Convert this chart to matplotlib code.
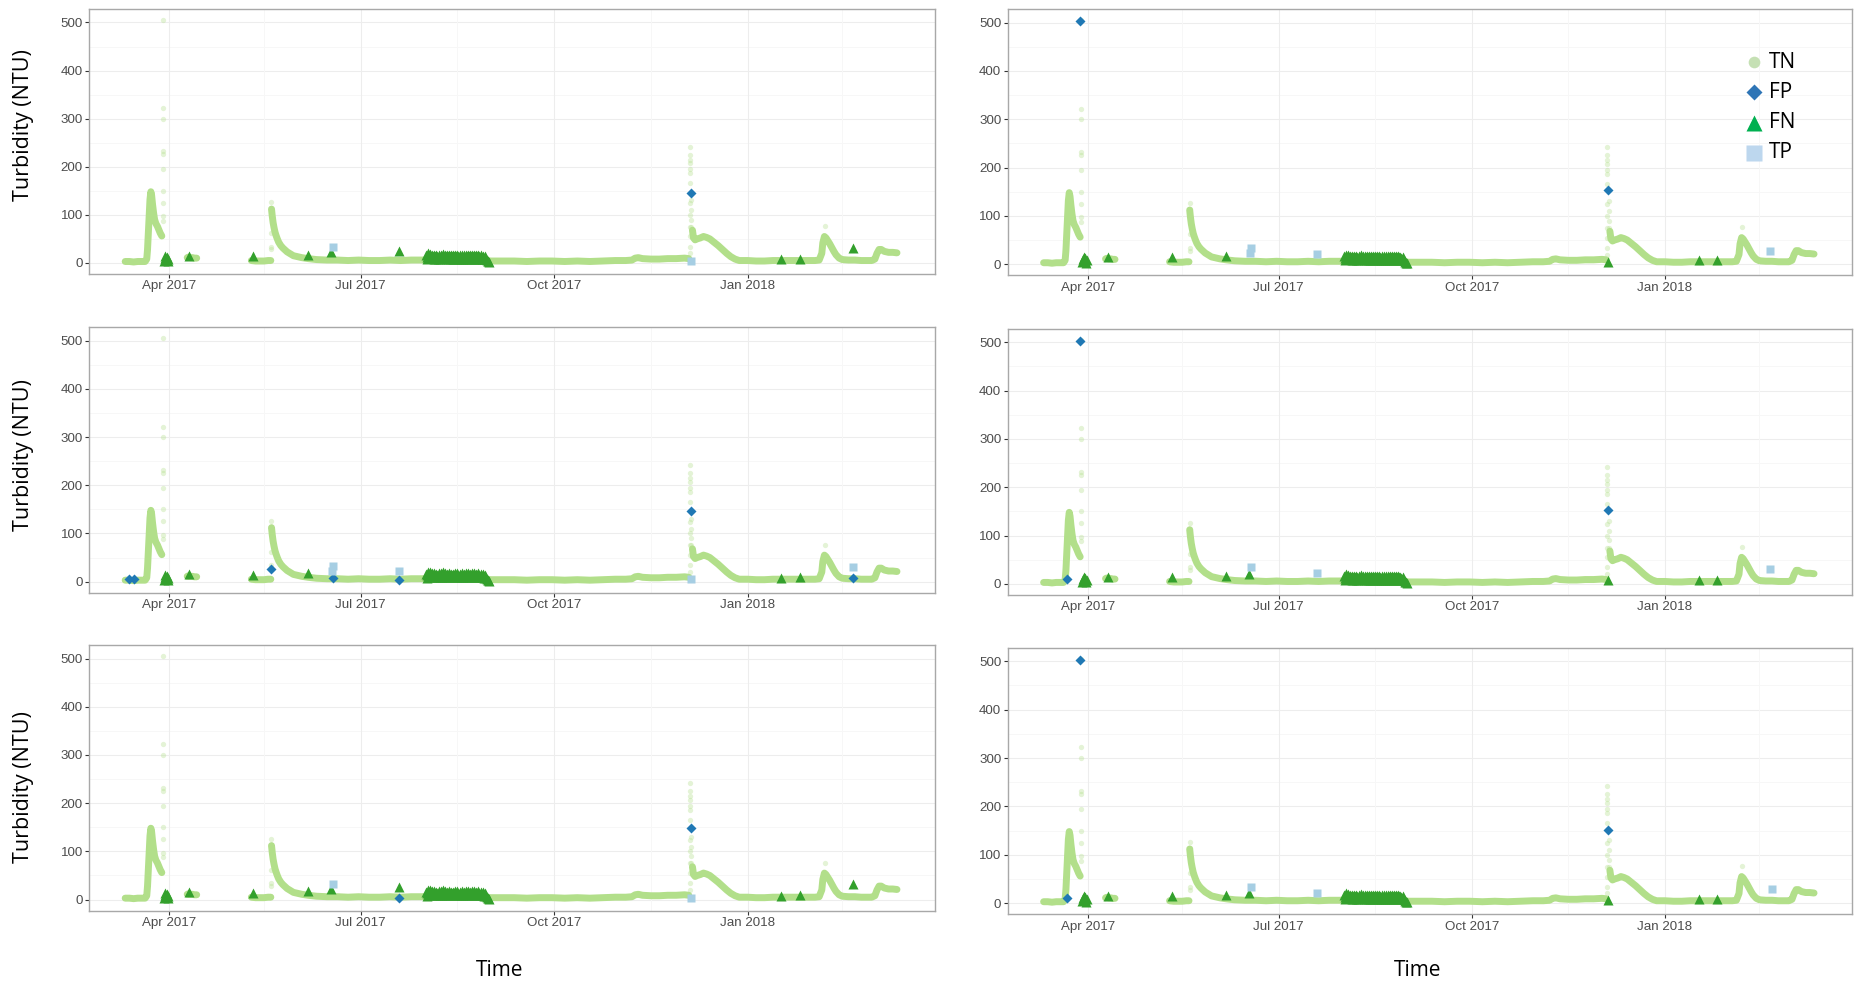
import numpy as np
import pandas as pd
import matplotlib
matplotlib.use("Agg")
import matplotlib.pyplot as plt

NaN = np.nan

# ---------------- data ----------------
# TN (true negatives): the turbidity record shared by every panel; NaN marks a data gap
tn_time = [
    "2017-03-11", "2017-03-13", "2017-03-15", "2017-03-17", "2017-03-19", "2017-03-20 12:00",
    "2017-03-21 06:00", "2017-03-21 15:00", "2017-03-22 00:00", "2017-03-22 10:00", "2017-03-22 19:00",
    "2017-03-23 05:00", "2017-03-23 14:00", "2017-03-24 00:00", "2017-03-24 12:00", "2017-03-25 00:00",
    "2017-03-25 14:00", "2017-03-26 08:00", "2017-03-27 00:00", "2017-03-27 16:00", "2017-03-28 10:00",
    "2017-03-29",
    "2017-04-09 12:00", "2017-04-10", "2017-04-11", "2017-04-12", "2017-04-13", "2017-04-14",
    "2017-04-20",
    "2017-05-10", "2017-05-12", "2017-05-14", "2017-05-16", "2017-05-18", "2017-05-19 06:00",
    "2017-05-19 10:00",
    "2017-05-19 14:00", "2017-05-19 22:00", "2017-05-20 08:00", "2017-05-20 18:00", "2017-05-21 06:00",
    "2017-05-21 18:00", "2017-05-22 08:00", "2017-05-23", "2017-05-24", "2017-05-25", "2017-05-26",
    "2017-05-27", "2017-05-28 12:00", "2017-05-30", "2017-06-01", "2017-06-03", "2017-06-06",
    "2017-06-10", "2017-06-15", "2017-06-20", "2017-06-25", "2017-06-30", "2017-07-05", "2017-07-10",
    "2017-07-15", "2017-07-20", "2017-07-25", "2017-07-30", "2017-08-05", "2017-08-15", "2017-08-25",
    "2017-09-01", "2017-09-06", "2017-09-12", "2017-09-18", "2017-09-24", "2017-09-30", "2017-10-06",
    "2017-10-12", "2017-10-18", "2017-10-24", "2017-10-30", "2017-11-04", "2017-11-07",
    "2017-11-08 12:00", "2017-11-10", "2017-11-12", "2017-11-16", "2017-11-20", "2017-11-24",
    "2017-11-28", "2017-12-02", "2017-12-04",
    "2017-12-05",
    "2017-12-05 18:00", "2017-12-06 06:00", "2017-12-07", "2017-12-08", "2017-12-09 12:00",
    "2017-12-11", "2017-12-12 12:00", "2017-12-14", "2017-12-16", "2017-12-18", "2017-12-20",
    "2017-12-22", "2017-12-24", "2017-12-26", "2017-12-28", "2018-01-01", "2018-01-05", "2018-01-09",
    "2018-01-13", "2018-01-17", "2018-01-21", "2018-01-25", "2018-01-29", "2018-02-02", "2018-02-04",
    "2018-02-05 06:00", "2018-02-05 18:00", "2018-02-06 12:00", "2018-02-07 06:00", "2018-02-08",
    "2018-02-09", "2018-02-10", "2018-02-11", "2018-02-12", "2018-02-13 12:00", "2018-02-15",
    "2018-02-18", "2018-02-21", "2018-02-24", "2018-02-27", "2018-03-01", "2018-03-02 12:00",
    "2018-03-03 12:00", "2018-03-04 12:00", "2018-03-05 12:00", "2018-03-07", "2018-03-09",
    "2018-03-11", "2018-03-13",
]
tn_val = [
    3, 3, 2, 3, 3, 3,
    8, 28, 62, 100, 132,
    148, 140, 122, 104, 90,
    82, 76, 69, 62, 56,
    NaN,
    11, 12, 11, 11, 10, 10,
    NaN,
    5, 4, 4, 4, 5, 5,
    NaN,
    112, 98, 84, 74, 64,
    57, 50, 43, 36, 31, 27,
    23, 19, 15, 13, 11, 9,
    7, 6, 6, 5, 6, 5, 5,
    6, 5, 6, 6, 7, 7, 6,
    4, 4, 4, 3, 4, 4, 3,
    4, 3, 4, 5, 5, 6,
    10, 11, 9, 8, 8, 9,
    9, 10, 9,
    NaN,
    68, 52, 48, 50, 52,
    55, 53, 50, 43, 36, 28,
    20, 13, 8, 5, 5, 4, 4,
    5, 5, 5, 5, 5, 5, 6,
    20, 42, 55, 52, 47,
    40, 32, 24, 17, 10, 7,
    6, 6, 5, 5, 5, 8,
    20, 28, 28, 24, 22,
    22, 21,
]

# isolated, faint TN readings during the storm peaks
tn_spike_time = (["2017-03-21 10:00"] * 2 + ["2017-03-28 18:00"] * 10 + ["2017-05-19 12:00"] * 5
                 + ["2017-12-04 14:00"] * 13 + ["2017-12-05 06:00"] * 4 + ["2018-02-06 18:00"])
tn_spike_val = ([48, 30] + [505, 322, 300, 232, 226, 195, 150, 125, 97, 88] + [126, 114, 62, 34, 28]
                + [242, 225, 215, 207, 195, 186, 166, 124, 100, 75, 55, 34, 20] + [130, 110, 90, 75]
                + [76])

# FN (false negatives) common to every panel
fn_common_time = ["2017-03-29 06:00", "2017-03-29 18:00", "2017-03-30 04:00", "2017-03-30 12:00",
                  "2017-03-30 20:00", "2017-03-31 06:00", "2017-03-31 14:00", "2017-04-10 12:00",
                  "2017-05-11", "2017-06-06", "2017-08-31", "2018-01-17", "2018-01-26"]
fn_common_val = [4, 10, 14, 6, 12, 3, 8, 15, 14, 17, 2, 8, 9]

# FN block of early August (high, mid and low reading per day)
fn_block_start = "2017-08-01"
fn_block_hi = [16, 20, 19, 17, 17, 16, 17, 17, 19, 17, 16, 17, 16, 16, 17,
               17, 16, 17, 16, 17, 17, 16, 17, 17, 16, 17, 16, 15, 14, 6]
fn_block_mid = [13, 15, 15, 14, 14, 14, 14, 14, 15, 14, 14, 14, 14, 14, 14,
                14, 14, 14, 14, 14, 14, 14, 14, 14, 14, 14, 14, 13, 11, 4]
fn_block_lo = [8, 10, 10, 9, 9, 9, 9, 10, 10, 9, 9, 9, 9, 9, 9,
               9, 9, 9, 9, 9, 9, 9, 9, 9, 9, 9, 9, 8, 8, 3]

# panel-specific classified points: (class, time, turbidity)
panel_tl = [("FN", "2017-06-17", 22), ("FN", "2017-07-19", 24), ("FN", "2018-02-20", 32),
            ("FP", "2017-12-05", 146), ("TP", "2017-06-18", 33), ("TP", "2017-12-05", 4)]
panel_tr = [("FP", "2017-03-28 12:00", 503), ("FP", "2017-12-05", 153), ("FN", "2017-12-05", 4),
            ("TP", "2017-06-17 12:00", 23), ("TP", "2017-06-18", 33), ("TP", "2017-07-19", 21),
            ("TP", "2018-02-20", 27)]
panel_ml = [("FP", "2017-03-13", 6), ("FP", "2017-03-15", 6), ("FP", "2017-05-19 12:00", 27),
            ("FP", "2017-06-18", 7), ("FP", "2017-07-19", 4), ("FP", "2017-12-05", 146),
            ("FP", "2018-02-20", 7), ("TP", "2017-06-17 12:00", 22), ("TP", "2017-06-18", 33),
            ("TP", "2017-07-19", 22), ("TP", "2017-12-05", 5), ("TP", "2018-02-20", 31)]
panel_mr = [("FP", "2017-03-22", 10), ("FP", "2017-03-28 12:00", 502), ("FP", "2017-12-05", 153),
            ("FN", "2017-06-17", 20), ("FN", "2017-12-05", 8), ("TP", "2017-06-18", 34),
            ("TP", "2017-07-19", 23), ("TP", "2018-02-20", 30)]
panel_bl = [("FN", "2017-06-17", 22), ("FN", "2017-07-19", 26), ("FN", "2018-02-20", 33),
            ("FP", "2017-07-19", 4), ("FP", "2017-12-05", 148), ("TP", "2017-06-18", 33),
            ("TP", "2017-12-05", 4)]
panel_br = [("FP", "2017-03-22", 10), ("FP", "2017-03-28 12:00", 502), ("FP", "2017-12-05", 152),
            ("FN", "2017-06-17", 22), ("FN", "2017-12-05", 6), ("TP", "2017-06-18", 33),
            ("TP", "2017-07-19", 22), ("TP", "2018-02-21", 29)]

x_ticks = ["2017-04-01", "2017-07-01", "2017-10-01", "2018-01-01"]
x_tick_labels = ["Apr 2017", "Jul 2017", "Oct 2017", "Jan 2018"]
x_minor = ["2017-05-16", "2017-08-16", "2017-11-16", "2018-02-15"]
y_ticks = [0, 100, 200, 300, 400, 500]
legend_labels = ["TN", "FP", "FN", "TP"]

# ---------------- styling ----------------
C_TN, C_FP, C_FN, C_TP = "#b2df8a", "#1f78b4", "#33a02c", "#a6cee3"
LEG_COL = {"TN": "#c5e0b4", "FP": "#2e75b6", "FN": "#00b050", "TP": "#bdd7ee"}
MK = {"FN": ("^", 6.7, C_FN), "FP": ("D", 4.9, C_FP), "TP": ("s", 5.4, C_TP)}


def ts(seq):
    return pd.to_datetime(pd.Series(seq), format="mixed")


W, H = 1854, 983
fig = plt.figure(figsize=(W / 100, H / 100), dpi=100)


def box(x0, y0, x1, y1):
    return [x0 / W, 1 - y1 / H, (x1 - x0) / W, (y1 - y0) / H]


boxes = [box(89, 9, 935, 274), box(1007.5, 9, 1852, 275.3),
         box(89, 327.3, 935, 592.7), box(1007.5, 328.7, 1852, 595),
         box(89, 645, 935, 910.7), box(1007.5, 647.7, 1852, 914.3)]
panels = [panel_tl, panel_tr, panel_ml, panel_mr, panel_bl, panel_br]

tn_t = ts(tn_time)
tn_v = np.array(tn_val, dtype=float)
sp_t = ts(tn_spike_time)
fnc_t = ts(fn_common_time)
blk_t = pd.date_range(fn_block_start, periods=len(fn_block_hi), freq="D")
blk_t2 = blk_t + pd.Timedelta(hours=8)
blk_t3 = blk_t + pd.Timedelta(hours=16)

TICK_FONT = "Liberation Sans"

for b, extra in zip(boxes, panels):
    ax = fig.add_axes(b)
    ax.set_xlim(pd.Timestamp("2017-02-21 19:00"), pd.Timestamp("2018-03-31 02:00"))
    ax.set_ylim(-23, 528)
    for yv in y_ticks:
        ax.axhline(yv, color="#ededed", lw=0.8, zorder=0)
    for yv in [50, 150, 250, 350, 450]:
        ax.axhline(yv, color="#f7f7f7", lw=0.7, zorder=0)
    for xv in x_ticks:
        ax.axvline(pd.Timestamp(xv), color="#ededed", lw=0.8, zorder=0)
    for xv in x_minor:
        ax.axvline(pd.Timestamp(xv), color="#f7f7f7", lw=0.7, zorder=0)

    ax.plot(tn_t, tn_v, color=C_TN, lw=5.0, solid_capstyle="round",
            solid_joinstyle="round", zorder=2)
    ax.plot(sp_t, tn_spike_val, "o", ms=3.8, color=C_TN, alpha=0.35, mec="none", zorder=2)

    mk, ms, col = MK["FN"]
    ax.plot(fnc_t, fn_common_val, mk, ms=ms, color=col, mec="none", zorder=3)
    ax.plot(blk_t, fn_block_hi, mk, ms=ms, color=col, mec="none", zorder=3)
    ax.plot(blk_t2, fn_block_mid, mk, ms=ms, color=col, mec="none", zorder=3)
    ax.plot(blk_t3, fn_block_lo, mk, ms=ms, color=col, mec="none", zorder=3)

    for cls in ["FN", "FP", "TP"]:
        pts = [(pd.Timestamp(t), v) for c, t, v in extra if c == cls]
        if pts:
            mk, ms, col = MK[cls]
            ax.plot([p[0] for p in pts], [p[1] for p in pts], mk, ms=ms, color=col,
                    mec="none", zorder=4)

    ax.set_yticks(y_ticks)
    ax.set_yticklabels([str(v) for v in y_ticks])
    ax.set_xticks([pd.Timestamp(t) for t in x_ticks])
    ax.set_xticklabels(x_tick_labels)
    ax.tick_params(axis="both", length=3, width=0.8, color="#333333", pad=1.5,
                   labelsize=9.6, labelcolor="#4d4d4d")
    for lab in ax.get_xticklabels() + ax.get_yticklabels():
        lab.set_fontfamily(TICK_FONT)
    for s in ax.spines.values():
        s.set_color("#a8a8a8")
        s.set_linewidth(1.0)

LABEL_FONT = "Open Sans"
for yc in [125, 455, 787]:
    fig.text(24 / W, 1 - yc / H, "Turbidity (NTU)", rotation=90, ha="center", va="center",
             fontsize=15.5, family=LABEL_FONT, color="#000000")
for xc in [500, 1418]:
    fig.text(xc / W, 1 - 970 / H, "Time", ha="center", va="center",
             fontsize=15, family=LABEL_FONT, color="#000000")

lax = fig.add_axes([0, 0, 1, 1], facecolor="none")
lax.set_xlim(0, W)
lax.set_ylim(H, 0)
lax.axis("off")
leg_mk = {"TN": ("o", 8.4), "FP": ("D", 8.6), "FN": ("^", 12.2), "TP": ("s", 12.0)}
leg_y = [62, 92, 123, 153]
for lab, yy in zip(legend_labels, leg_y):
    m, s = leg_mk[lab]
    lax.plot([1754], [yy], m, ms=s, color=LEG_COL[lab], mec="none")
    lax.text(1769, yy, lab, ha="left", va="center", fontsize=15, family=LABEL_FONT,
             color="#000000")

fig.savefig("out.png", dpi=100)
